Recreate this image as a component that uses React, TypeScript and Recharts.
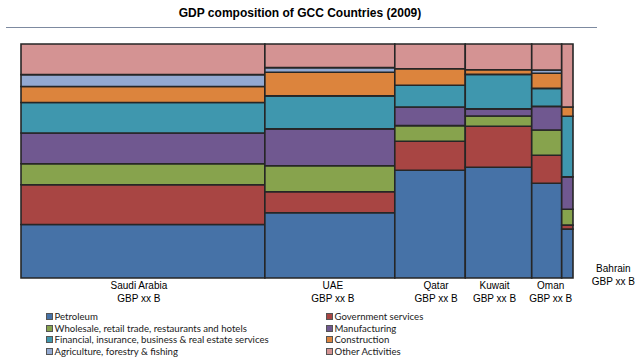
import { ComposedChart, XAxis, YAxis, ReferenceArea } from "recharts";

const countries = ["Saudi Arabia", "UAE", "Qatar", "Kuwait", "Oman", "Bahrain"];
const gdpSize = [244, 130, 70.5, 66.5, 30, 11.3];
const sectors = [
  "Petroleum",
  "Government services",
  "Wholesale, retail trade, restaurants and hotels",
  "Manufacturing",
  "Financial, insurance, business & real estate services",
  "Construction",
  "Agriculture, forestry & fishing",
  "Other Activities",
];
const petroleum = [22.9, 27.9, 46.2, 47.4, 40.5, 20.9];
const government = [17.0, 9.0, 12.4, 17.6, 12.0, 1.7];
const wholesale = [9.0, 11.1, 6.7, 4.4, 10.8, 6.8];
const manufacturing = [13.1, 15.8, 8.0, 3.0, 10.1, 13.8];
const financial = [13.1, 14.1, 9.3, 14.8, 7.7, 25.9];
const construction = [6.8, 10.1, 7.1, 2.0, 6.5, 4.0];
const agriculture = [5.1, 2.0, 0, 0, 1.4, 0];
const other = [13.1, 10.1, 10.6, 11.0, 11.1, 26.9];

const sectorValues = [petroleum, government, wholesale, manufacturing, financial, construction, agriculture, other];
const colors = ["#4672a7", "#a84543", "#87a34d", "#705890", "#3f97ae", "#dc843d", "#93a9d1", "#d49393"];

const total = gdpSize.reduce((a, b) => a + b, 0);
const starts = gdpSize.map((_, i) => gdpSize.slice(0, i).reduce((a, b) => a + b, 0));
const centers = gdpSize.map((g, i) => starts[i] + g / 2);

const rects = countries.flatMap((_, ci) => {
  const colTotal = sectorValues.reduce((a, s) => a + s[ci], 0);
  let acc = 0;
  return sectorValues
    .map((s, si) => {
      const y1 = (acc / colTotal) * 100;
      acc += s[ci];
      const y2 = (acc / colTotal) * 100;
      return { key: `${ci}-${si}`, x1: starts[ci], x2: starts[ci] + gdpSize[ci], y1, y2, fill: colors[si], v: s[ci] };
    })
    .filter((r) => r.v > 0);
});

// label nudges, Excel pushed these around a bit
const labelDx = [-4, 3, 6, -4, 4, 46];
const labelDy = [0, 0, 0, 0, 0, -17];

function CountryTick(props: any) {
  const { x, y, index } = props;
  const dx = labelDx[index] ?? 0;
  const dy = labelDy[index] ?? 0;
  return (
    <g>
      <text x={x + dx} y={y + 11 + dy} textAnchor="middle" fontSize={10} fill="#000" fontFamily="Liberation Sans, Arial, sans-serif">
        {countries[index]}
      </text>
      <text x={x + dx} y={y + 23.5 + dy} textAnchor="middle" fontSize={10} fill="#000" fontFamily="Liberation Sans, Arial, sans-serif">
        GBP xx B
      </text>
    </g>
  );
}

export default function App() {
  const data = centers.map((c) => ({ x: c, y: 100 }));
  return (
    <div style={{ position: "absolute", left: 0, top: 0, width: 635, height: 361, background: "#fff", overflow: "hidden" }}>
      <div
        style={{
          position: "absolute",
          top: 6,
          left: 0,
          width: 600,
          textAlign: "center",
          fontFamily: "Liberation Sans, Arial, sans-serif",
          fontWeight: "bold",
          fontSize: 12,
        }}
      >
        GDP composition of GCC Countries (2009)
      </div>
      <div style={{ position: "absolute", top: 27, left: 6, width: 591, height: 1, background: "#7d8aa0" }} />
      <ComposedChart
        width={635}
        height={361}
        data={data}
        margin={{ top: 44, right: 62, bottom: 43, left: 21 }}
        style={{ position: "absolute", left: 0, top: 0 }}
      >
        <XAxis
          type="number"
          dataKey="x"
          domain={[0, total]}
          allowDataOverflow
          ticks={centers}
          interval={0}
          axisLine={false}
          tickLine={false}
          tickSize={0}
          tickMargin={0}
          height={40}
          tick={<CountryTick />}
        />
        <YAxis type="number" dataKey="y" domain={[0, 100]} allowDataOverflow hide />
        {rects.map((r) => (
          <ReferenceArea
            key={r.key}
            x1={r.x1}
            x2={r.x2}
            y1={r.y1}
            y2={r.y2}
            fill={r.fill}
            fillOpacity={1}
            stroke="#262626"
            strokeWidth={1.6}
            ifOverflow="visible"
          />
        ))}
      </ComposedChart>
      {sectors.map((s, i) => (
        <div
          key={s}
          style={{
            position: "absolute",
            left: i % 2 === 0 ? 46 : 326,
            top: 311 + Math.floor(i / 2) * 11.7,
            display: "flex",
            alignItems: "center",
            fontFamily: "Lato, sans-serif",
            fontSize: 9.6,
            color: "#1a1a1a",
            whiteSpace: "nowrap",
          }}
        >
          <span
            style={{
              display: "inline-block",
              width: 5,
              height: 5,
              background: colors[i],
              border: "1px solid #555",
              marginRight: 1.5,
            }}
          />
          {s}
        </div>
      ))}
    </div>
  );
}
